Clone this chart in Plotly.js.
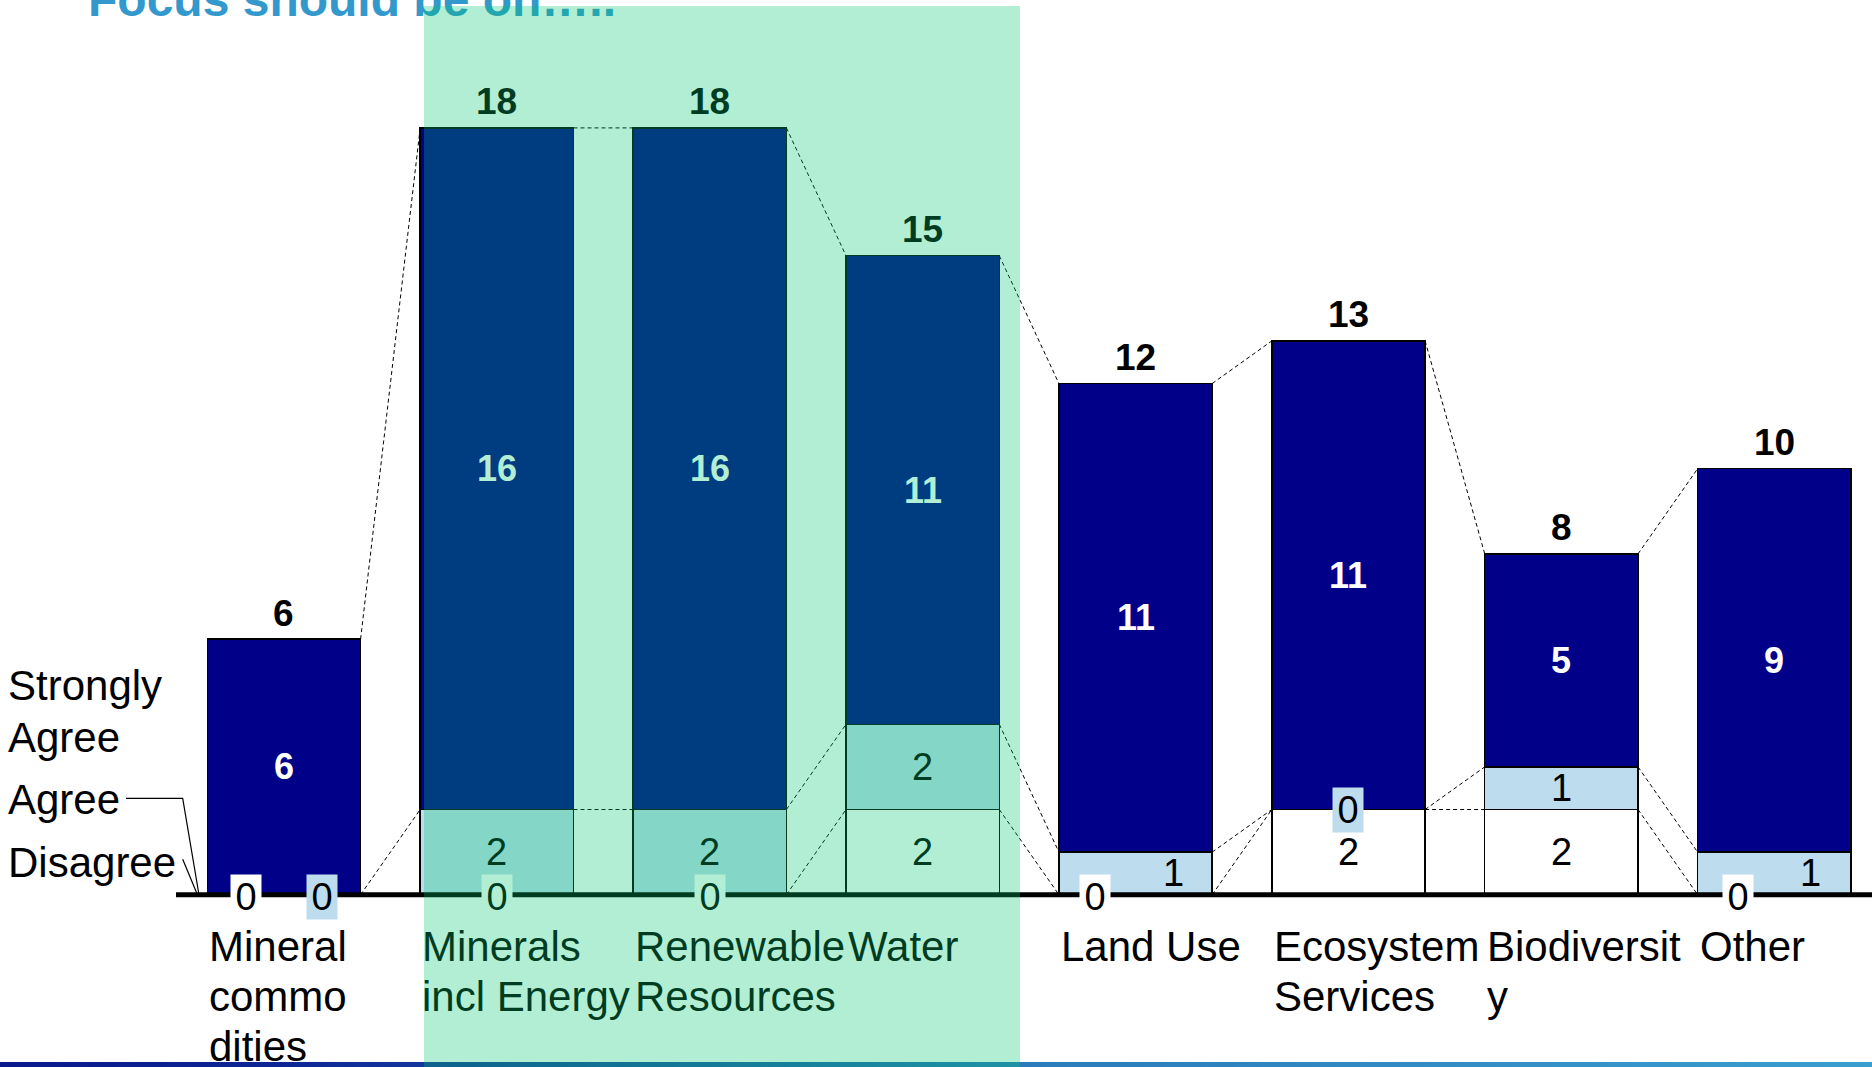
<!DOCTYPE html>
<html>
<head>
<meta charset="utf-8">
<script src="https://cdn.plot.ly/plotly-3.0.1.min.js"></script>
<style>
html,body{margin:0;padding:0;background:#ffffff;}
#wrap{position:relative;width:1872px;height:1067px;overflow:hidden;background:#ffffff;}
#chart{position:absolute;left:0;top:0;width:1872px;height:1067px;}
#bottomline{position:absolute;left:0;top:1062px;width:1872px;height:5px;
  background:linear-gradient(to right,#0a1a8c 0%,#0d2694 15%,#2a7aba 53%,#3a9ecf 100%);}
#highlight{position:absolute;left:424px;top:6px;width:596px;height:1061px;
  background:rgba(0,200,110,0.3);pointer-events:none;}
</style>
</head>
<body>
<div id="wrap">
  <div id="bottomline"></div>
  <div id="chart"></div>
  <div id="highlight"></div>
</div>
<script>
// ---------------- data ----------------
const categoryLabels = ['Mineral<br>commo<br>dities', 'Minerals<br>incl Energy', 'Renewable<br>Resources', 'Water',
                        'Land Use', 'Ecosystem<br>Services', 'Biodiversit<br>y', 'Other'];
const seriesNames = ['Disagree', 'Agree', 'Strongly Agree'];
const disagree      = [0, 0, 0, 2, 0, 2, 2, 0];
const agree         = [0, 2, 2, 2, 1, 0, 1, 1];
const stronglyAgree = [6, 16, 16, 11, 11, 11, 5, 9];
const chartTitle = 'Focus should be on…..';

// ---------------- label placement (style) ----------------
const disagreeLabelShift = [-0.18, 0, 0, 0, -0.19, 0, 0, -0.17];
const agreeLabelShift    = [ 0.18, 0, 0, 0,  0.18, 0, 0,  0.17];

// ---------------- geometry / style ----------------
const W = 1872, H = 1067, ML = 176, MR = 0, MT = 64, MB = 151;
const PW = W - ML - MR, PH = H - MT - MB;
const XR = [-0.507, 7.459], YR = [-0.5, 19.5];
const BARW = 0.72;
const FONT = 'Liberation Sans, Arial, Helvetica, sans-serif';
const COL_DIS = '#ffffff', COL_AGR = '#bdddee', COL_SA = '#000088';

const pxX = p => (p - ML) / PW;               // pixel -> paper x
const pxY = p => (MT + PH - p) / PH;          // pixel -> paper y

const n = categoryLabels.length;
const xs = categoryLabels.map((_, i) => i);
const totals = xs.map(i => disagree[i] + agree[i] + stronglyAgree[i]);

function barTrace(name, vals, color) {
  return {
    type: 'bar', name: name, x: xs, y: vals, width: BARW,
    marker: {color: color, line: {color: '#000000', width: 1.5}},
    hoverinfo: 'skip', showlegend: false
  };
}

// connector dashed lines between bar boundaries
const lvl = [
  xs.map(i => disagree[i]),
  xs.map(i => disagree[i] + agree[i]),
  totals
];
const cx = [], cy = [];
for (const L of lvl) {
  for (let i = 0; i < n - 1; i++) {
    cx.push(i + BARW / 2, i + 1 - BARW / 2, null);
    cy.push(L[i], L[i + 1], null);
  }
}
const connector = {
  type: 'scatter', mode: 'lines', x: cx, y: cy,
  line: {color: '#000000', width: 1, dash: '4px,3px'},
  hoverinfo: 'skip', showlegend: false, cliponaxis: false
};

const traces = [
  barTrace(seriesNames[0], disagree, COL_DIS),
  barTrace(seriesNames[1], agree, COL_AGR),
  barTrace(seriesNames[2], stronglyAgree, COL_SA),
  connector
];

// ---------------- annotations ----------------
const ann = [];
const valFont = {family: FONT, size: 38, color: '#000000'};
for (let i = 0; i < n; i++) {
  const d = disagree[i], a = agree[i], s = stronglyAgree[i], t = totals[i];
  // disagree
  const dA = {x: i + disagreeLabelShift[i], y: d > 0 ? d / 2 : 0, text: String(d),
    showarrow: false, font: valFont, xanchor: 'center', yanchor: 'middle'};
  if (d === 0) Object.assign(dA, {bgcolor: COL_DIS, width: 30, height: 44, borderpad: 0, yshift: -2});
  ann.push(dA);
  // agree
  const aA = {x: i + agreeLabelShift[i], y: a > 0 ? d + a / 2 : d, text: String(a),
    showarrow: false, font: valFont, xanchor: 'center', yanchor: 'middle'};
  if (a === 0) Object.assign(aA, {bgcolor: COL_AGR, width: 30, height: 44, borderpad: 0, yshift: d === 0 ? -2 : 0});
  ann.push(aA);
  // strongly agree
  ann.push({x: i, y: d + a + s / 2, text: String(s), showarrow: false,
    font: {family: FONT, size: 36, color: '#ffffff', weight: 'bold'}, xanchor: 'center', yanchor: 'middle'});
  // total
  ann.push({x: i, y: t, text: String(t), showarrow: false, yshift: 26,
    font: {family: FONT, size: 37, color: '#000000', weight: 'bold'}, xanchor: 'center', yanchor: 'middle'});
  // category label, one annotation per line
  categoryLabels[i].split('<br>').forEach((line, k) => {
    ann.push({xref: 'x', yref: 'paper', x: i - BARW / 2, y: pxY(960.7 + 50 * k - 14.6),
      text: line, showarrow: false, xanchor: 'left', yanchor: 'middle', align: 'left',
      font: {family: FONT, size: 42, color: '#000000'}});
  });
}
// left legend texts
const legendLines = [
  {text: 'Strongly', base: 700},
  {text: 'Agree', base: 752.5},
  {text: seriesNames[1], base: 814},
  {text: seriesNames[0], base: 877}
];
legendLines.forEach(L => {
  ann.push({xref: 'paper', yref: 'paper', x: pxX(6), y: pxY(L.base - 14.6), text: L.text,
    showarrow: false, xanchor: 'left', yanchor: 'middle', align: 'left',
    font: {family: FONT, size: 42, color: '#000000'}});
});

// ---------------- shapes ----------------
const P = (x, y) => pxX(x).toFixed(5) + ',' + pxY(y).toFixed(5);
const shapes = [
  {type: 'line', xref: 'paper', yref: 'y', x0: 0, x1: 1, y0: 0, y1: 0,
   line: {color: '#000000', width: 5}, layer: 'above'},
  {type: 'path', xref: 'paper', yref: 'paper',
   path: 'M' + P(126, 798.3) + 'L' + P(182.7, 798.3) + 'L' + P(198.7, 893),
   line: {color: '#000000', width: 1.2}},
  {type: 'path', xref: 'paper', yref: 'paper',
   path: 'M' + P(182.7, 859.3) + 'L' + P(196.7, 893),
   line: {color: '#000000', width: 1.2}}
];

const layout = {
  width: W, height: H,
  margin: {l: ML, r: MR, t: MT, b: MB, pad: 0},
  paper_bgcolor: 'rgba(0,0,0,0)', plot_bgcolor: 'rgba(0,0,0,0)',
  barmode: 'stack', showlegend: false,
  title: {text: chartTitle, font: {family: FONT, size: 48, color: '#3399cc', weight: 'bold'},
          xref: 'container', yref: 'container', x: 88 / W, xanchor: 'left',
          y: 1 - 16 / H, yanchor: 'bottom'},
  xaxis: {range: XR, visible: false, fixedrange: true},
  yaxis: {range: YR, visible: false, fixedrange: true},
  annotations: ann,
  shapes: shapes
};

Plotly.newPlot('chart', traces, layout, {staticPlot: true, displayModeBar: false});
</script>
</body>
</html>
